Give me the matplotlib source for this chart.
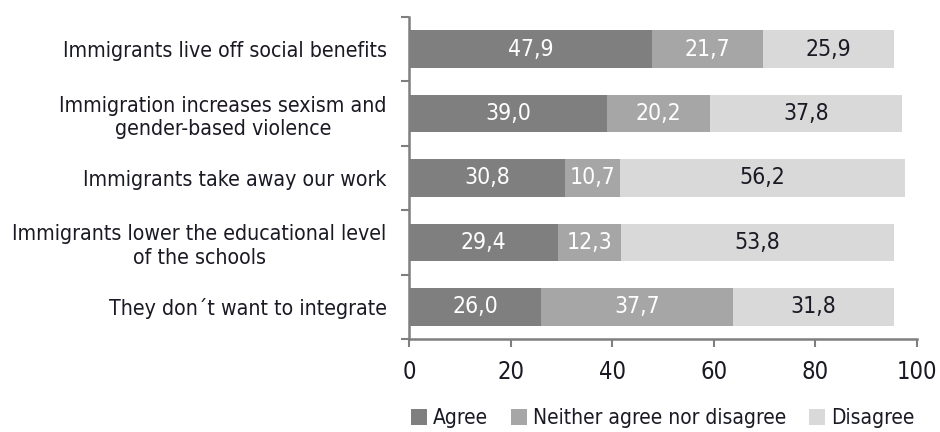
import matplotlib.pyplot as plt
import numpy as np

# Data
categories = [
    'Immigrants live off social benefits',
    'Immigration increases sexism and\ngender-based violence',
    'Immigrants take away our work',
    'Immigrants lower the educational level\nof the schools',
    'They don\u00b4t want to integrate',
]
agree = [47.9, 39.0, 30.8, 29.4, 26.0]
neither = [21.7, 20.2, 10.7, 12.3, 37.7]
disagree = [25.9, 37.8, 56.2, 53.8, 31.8]
series_names = ['Agree', 'Neither agree nor disagree', 'Disagree']

plt.rcParams['font.family'] = ['DejaVu Sans']
plt.rcParams['font.stretch'] = 'condensed'

colors = ['#7f7f7f', '#a6a6a6', '#d9d9d9']
text_colors = ['white', 'white', '#1a1a24']
spine_col = '#7f7f7f'

fig = plt.figure(figsize=(9.4, 4.32), dpi=100)
ax = fig.add_axes([0.435, 0.215, 0.5405, 0.746])

y = np.arange(len(categories))
left = np.zeros(len(categories))
for vals, col, tcol, name in zip([agree, neither, disagree], colors, text_colors, series_names):
    vals = np.array(vals)
    ax.barh(y, vals, left=left, height=0.58, color=col, label=name)
    for yi, l, v in zip(y, left, vals):
        ax.text(l + v / 2, yi, f'{v:.1f}'.replace('.', ','), ha='center', va='center',
                color=tcol, fontsize=16.5)
    left += vals

ax.set_ylim(len(categories) - 0.5, -0.5)
ax.set_xlim(0, 100)
ax.set_xticks(range(0, 101, 20))
ax.set_yticks(y)
ax.set_yticklabels(categories, fontsize=15.3, color='#1a1a24', ha='right', multialignment='center')
ax.set_yticks(np.arange(-0.5, len(categories)), minor=True)
ax.tick_params(axis='y', which='major', length=0, pad=16)
ax.tick_params(axis='y', which='minor', length=6, width=1.5, color=spine_col)
ax.tick_params(axis='x', length=6, width=1.5, color=spine_col, labelsize=17,
               labelcolor='#1a1a24', pad=9)

for s in ['top', 'right']:
    ax.spines[s].set_visible(False)
for s in ['left', 'bottom']:
    ax.spines[s].set_color(spine_col)
    ax.spines[s].set_linewidth(1.8)

fig.legend(loc='lower center', bbox_to_anchor=(0.705, -0.035), ncol=3, frameon=False,
           fontsize=15, handlelength=0.75, handleheight=0.75, handletextpad=0.3,
           columnspacing=1.1, labelcolor='#1a1a24')

fig.savefig('out.png', dpi=100)
